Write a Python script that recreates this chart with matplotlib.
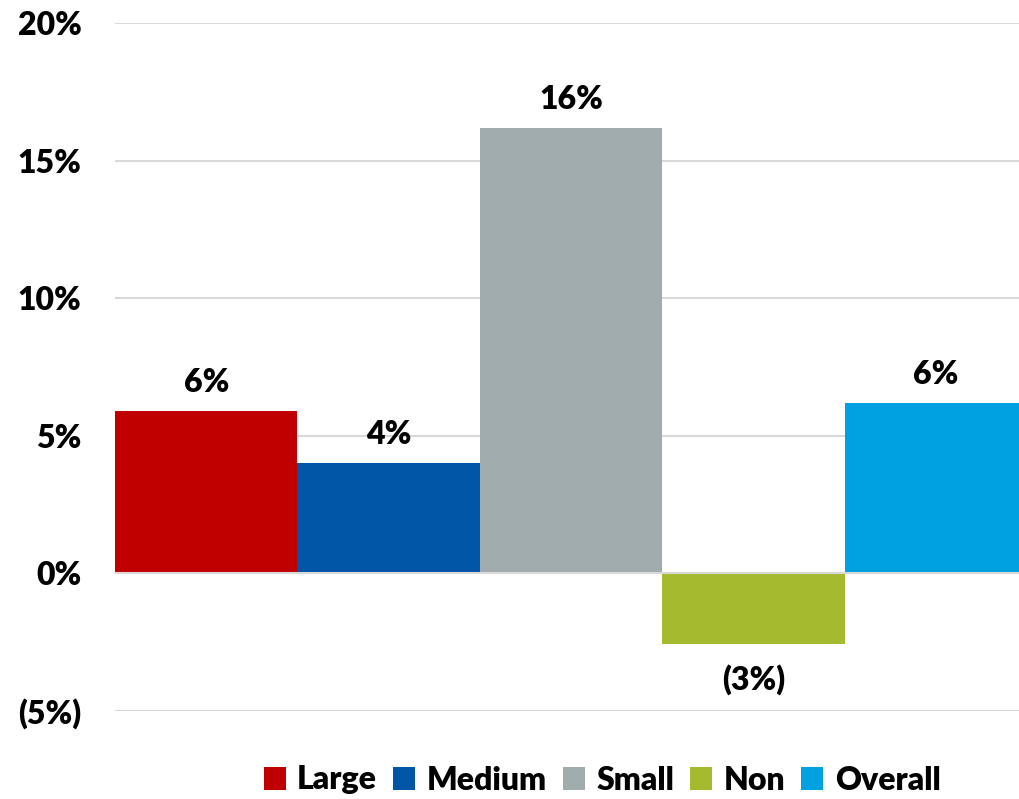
import matplotlib.pyplot as plt
from matplotlib.patches import Patch

plt.rcParams["font.family"] = ["Lato", "DejaVu Sans"]
plt.rcParams["font.weight"] = "heavy"

categories = ["Large", "Medium", "Small", "Non", "Overall"]
values = [5.9, 4.0, 16.2, -2.55, 6.2]
colors = ["#C00000", "#0055A6", "#A0ACAC", "#A5BA2E", "#00A1E0"]
yticks = [-5, 0, 5, 10, 15, 20]


def pct(v):
    # negatives shown in parentheses, accounting style
    return f"({abs(v):.0f}%)" if v < 0 else f"{v:.0f}%"


fig = plt.figure(figsize=(10.2, 7.99), dpi=100)
ax = fig.add_axes([115 / 1020, 1 - 711 / 799, 912 / 1020, 688 / 799])

x = range(len(categories))
bars = ax.bar(x, values, width=1.0, color=colors, zorder=3)

ax.set_xlim(-0.5, len(categories) - 0.5)
ax.set_ylim(-5, 20)
ax.set_yticks(yticks)
ax.set_yticklabels([pct(t) for t in yticks], fontsize=23, fontweight="heavy")
ax.set_xticks([])
ax.tick_params(axis="y", length=0, pad=24)
ax.grid(axis="y", color="#D9D9D9", linewidth=1.5, zorder=0)
for side in ["top", "right", "bottom", "left"]:
    ax.spines[side].set_visible(False)
ax.axhline(0, color="#D9D9D9", linewidth=1.5, zorder=4)

for b, v in zip(bars, values):
    if v >= 0:
        ax.annotate(pct(v), (b.get_x() + b.get_width() / 2, v), xytext=(0, 10),
                    textcoords="offset points", ha="center", va="bottom",
                    fontsize=23, fontweight="heavy")
    else:
        ax.annotate(pct(v), (b.get_x() + b.get_width() / 2, v), xytext=(0, -15),
                    textcoords="offset points", ha="center", va="top",
                    fontsize=23, fontweight="heavy")

handles = [Patch(facecolor=c, label=n) for n, c in zip(categories, colors)]
fig.legend(handles=handles, loc="center", bbox_to_anchor=(602 / 1020, 1 - 780 / 799),
           ncol=5, frameon=False, prop={"size": 23, "weight": "heavy"},
           handlelength=0.7, handleheight=0.7,
           handletextpad=0.35, columnspacing=0.5, borderaxespad=0)

fig.savefig("out.png", dpi=100)
